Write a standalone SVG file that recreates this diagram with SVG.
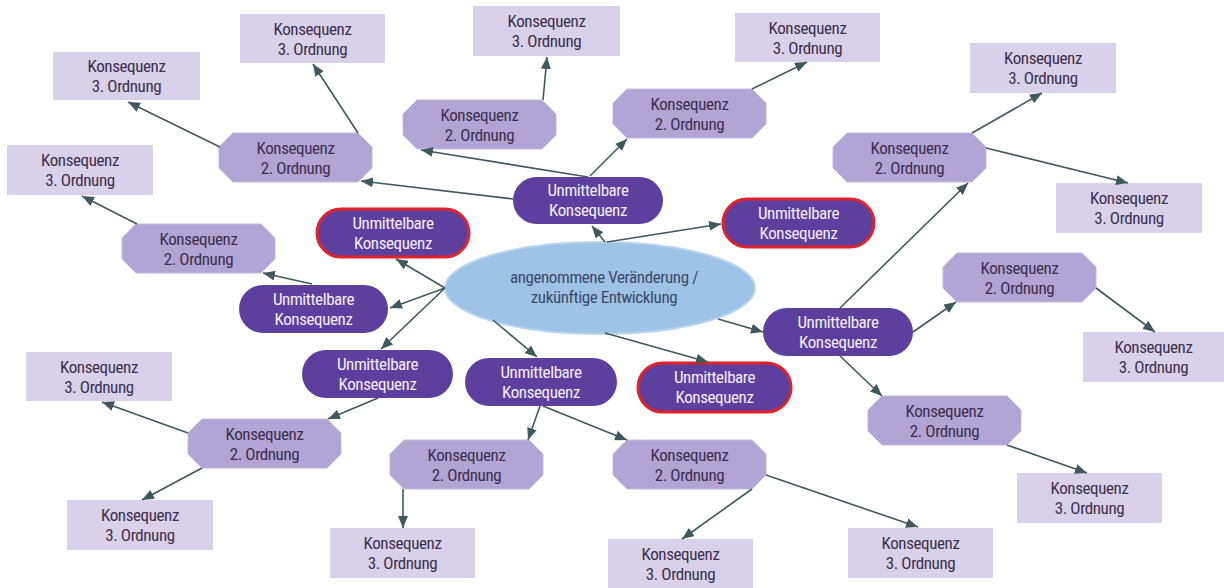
<svg xmlns="http://www.w3.org/2000/svg" width="1224" height="588" viewBox="0 0 1224 588">
<defs>
<marker id="arr" markerUnits="userSpaceOnUse" markerWidth="13" markerHeight="10" refX="12" refY="5" orient="auto">
<path d="M0,0 L12,5 L0,10 Z" fill="#3e5a60"/>
</marker>
<style>
text{font-family:"Liberation Sans Narrow","Roboto Condensed","DejaVu Sans Condensed","Liberation Sans",sans-serif;font-stretch:condensed;font-size:17px;letter-spacing:-0.4px;text-anchor:middle}
.l3 rect{fill:#d9d1ea}
.l3 text,.l2 text{fill:#3c2f4d}
.l2 polygon{fill:#b2a4d5;stroke:#c4b9e0;stroke-width:1}
.l1 rect{fill:#5d3f9e}
.l1 text{fill:#f3eefa}
.red rect{stroke:#e0232a;stroke-width:3}
.c line{stroke:#3e5a60;stroke-width:1.6;marker-end:url(#arr)}
</style>
</defs>
<rect width="1224" height="588" fill="#ffffff"/>

<g id="center">
<ellipse cx="600" cy="288" rx="155" ry="46" fill="#9dc3e6" stroke="#b8d5f0" stroke-width="2"/>
<text x="604" y="283" fill="#3b4a6b">angenommene Veränderung /<tspan x="604" y="303">zukünftige Entwicklung</tspan></text>
</g>

<g id="n3A" class="l3"><rect x="240" y="14" width="145" height="49"/><text x="312.5" y="34.5">Konsequenz<tspan x="312.5" y="54.5">3. Ordnung</tspan></text></g>
<g id="n3B" class="l3"><rect x="53" y="52" width="147" height="48"/><text x="126.5" y="72">Konsequenz<tspan x="126.5" y="92">3. Ordnung</tspan></text></g>
<g id="n3C" class="l3"><rect x="7" y="145" width="146" height="50"/><text x="80" y="166">Konsequenz<tspan x="80" y="186">3. Ordnung</tspan></text></g>
<g id="n3D" class="l3"><rect x="473" y="6" width="147" height="50"/><text x="546.5" y="27">Konsequenz<tspan x="546.5" y="47">3. Ordnung</tspan></text></g>
<g id="n3E" class="l3"><rect x="735" y="13" width="145" height="49"/><text x="807.5" y="33.5">Konsequenz<tspan x="807.5" y="53.5">3. Ordnung</tspan></text></g>
<g id="n3F" class="l3"><rect x="970" y="43" width="146" height="50"/><text x="1043" y="64">Konsequenz<tspan x="1043" y="84">3. Ordnung</tspan></text></g>
<g id="n3G" class="l3"><rect x="1056" y="183" width="146" height="50"/><text x="1129" y="204">Konsequenz<tspan x="1129" y="224">3. Ordnung</tspan></text></g>
<g id="n3H" class="l3"><rect x="1083" y="332" width="141" height="50"/><text x="1153.5" y="353">Konsequenz<tspan x="1153.5" y="373">3. Ordnung</tspan></text></g>
<g id="n3I" class="l3"><rect x="1017" y="473" width="145" height="50"/><text x="1089.5" y="494">Konsequenz<tspan x="1089.5" y="514">3. Ordnung</tspan></text></g>
<g id="n3J" class="l3"><rect x="848" y="528" width="145" height="50"/><text x="920.5" y="549">Konsequenz<tspan x="920.5" y="569">3. Ordnung</tspan></text></g>
<g id="n3K" class="l3"><rect x="608" y="539" width="145" height="49"/><text x="680.5" y="559.5">Konsequenz<tspan x="680.5" y="579.5">3. Ordnung</tspan></text></g>
<g id="n3L" class="l3"><rect x="330" y="528" width="145" height="50"/><text x="402.5" y="549">Konsequenz<tspan x="402.5" y="569">3. Ordnung</tspan></text></g>
<g id="n3M" class="l3"><rect x="67" y="500" width="146" height="50"/><text x="140" y="521">Konsequenz<tspan x="140" y="541">3. Ordnung</tspan></text></g>
<g id="n3N" class="l3"><rect x="26" y="352" width="146" height="49"/><text x="99" y="372.5">Konsequenz<tspan x="99" y="392.5">3. Ordnung</tspan></text></g>

<g id="n2a" class="l2"><polygon points="233,133 358,133 372,147 372,168 358,182 233,182 219,168 219,147"/><text x="295.5" y="153.5">Konsequenz<tspan x="295.5" y="173.5">2. Ordnung</tspan></text></g>
<g id="n2b" class="l2"><polygon points="136,224 261,224 275,238 275,259 261,273 136,273 122,259 122,238"/><text x="198.5" y="244.5">Konsequenz<tspan x="198.5" y="264.5">2. Ordnung</tspan></text></g>
<g id="n2c" class="l2"><polygon points="417,100 542,100 556,114 556,135 542,149 417,149 403,135 403,114"/><text x="479.5" y="120.5">Konsequenz<tspan x="479.5" y="140.5">2. Ordnung</tspan></text></g>
<g id="n2d" class="l2"><polygon points="627,89 752,89 766,103 766,124 752,138 627,138 613,124 613,103"/><text x="689.5" y="109.5">Konsequenz<tspan x="689.5" y="129.5">2. Ordnung</tspan></text></g>
<g id="n2e" class="l2"><polygon points="847,133 972,133 986,147 986,168 972,182 847,182 833,168 833,147"/><text x="909.5" y="153.5">Konsequenz<tspan x="909.5" y="173.5">2. Ordnung</tspan></text></g>
<g id="n2f" class="l2"><polygon points="957,253 1082,253 1096,267 1096,288 1082,302 957,302 943,288 943,267"/><text x="1019.5" y="273.5">Konsequenz<tspan x="1019.5" y="293.5">2. Ordnung</tspan></text></g>
<g id="n2g" class="l2"><polygon points="882,396 1007,396 1021,410 1021,431 1007,445 882,445 868,431 868,410"/><text x="944.5" y="416.5">Konsequenz<tspan x="944.5" y="436.5">2. Ordnung</tspan></text></g>
<g id="n2h" class="l2"><polygon points="627,440 752,440 766,454 766,475 752,489 627,489 613,475 613,454"/><text x="689.5" y="460.5">Konsequenz<tspan x="689.5" y="480.5">2. Ordnung</tspan></text></g>
<g id="n2i" class="l2"><polygon points="404,440 529,440 543,454 543,475 529,489 404,489 390,475 390,454"/><text x="466.5" y="460.5">Konsequenz<tspan x="466.5" y="480.5">2. Ordnung</tspan></text></g>
<g id="n2j" class="l2"><polygon points="202,419 327,419 341,433 341,454 327,468 202,468 188,454 188,433"/><text x="264.5" y="439.5">Konsequenz<tspan x="264.5" y="459.5">2. Ordnung</tspan></text></g>

<g id="p1" class="l1"><rect x="513" y="177" width="150" height="47" rx="23.5"/><text x="588" y="196">Unmittelbare<tspan x="588" y="216">Konsequenz</tspan></text></g>
<g id="p2" class="l1 red"><rect x="723" y="199" width="151" height="48" rx="24"/><text x="798.5" y="218.5">Unmittelbare<tspan x="798.5" y="238.5">Konsequenz</tspan></text></g>
<g id="p3" class="l1 red"><rect x="317" y="209" width="152" height="48" rx="24"/><text x="393" y="228.5">Unmittelbare<tspan x="393" y="248.5">Konsequenz</tspan></text></g>
<g id="p4" class="l1"><rect x="239" y="285" width="149" height="48" rx="24"/><text x="313.5" y="304.5">Unmittelbare<tspan x="313.5" y="324.5">Konsequenz</tspan></text></g>
<g id="p5" class="l1"><rect x="302" y="350" width="151" height="48" rx="24"/><text x="377.5" y="369.5">Unmittelbare<tspan x="377.5" y="389.5">Konsequenz</tspan></text></g>
<g id="p6" class="l1"><rect x="465" y="358" width="152" height="48" rx="24"/><text x="541" y="377.5">Unmittelbare<tspan x="541" y="397.5">Konsequenz</tspan></text></g>
<g id="p7" class="l1 red"><rect x="638" y="363" width="153" height="49" rx="24.5"/><text x="714.5" y="383">Unmittelbare<tspan x="714.5" y="403">Konsequenz</tspan></text></g>
<g id="p8" class="l1"><rect x="763" y="308" width="150" height="48" rx="24"/><text x="838" y="327.5">Unmittelbare<tspan x="838" y="347.5">Konsequenz</tspan></text></g>

<g id="connectors" class="c">
<line x1="605" y1="242" x2="592" y2="226"/>
<line x1="607" y1="242" x2="721" y2="224"/>
<line x1="445" y1="288" x2="396" y2="259"/>
<line x1="445" y1="288" x2="390" y2="308"/>
<line x1="445" y1="288" x2="381" y2="349"/>
<line x1="493" y1="320" x2="537" y2="357"/>
<line x1="605" y1="333" x2="708" y2="362"/>
<line x1="718" y1="319" x2="763" y2="332"/>
<line x1="513" y1="199" x2="361" y2="181"/>
<line x1="588" y1="177" x2="421" y2="150"/>
<line x1="590" y1="176" x2="627" y2="139"/>
<line x1="358" y1="133" x2="313" y2="64"/>
<line x1="220" y1="147" x2="128" y2="102"/>
<line x1="543" y1="100" x2="547" y2="57"/>
<line x1="752" y1="89" x2="807" y2="62"/>
<line x1="312" y1="284" x2="263" y2="273"/>
<line x1="137" y1="224" x2="82" y2="196"/>
<line x1="378" y1="398" x2="328" y2="419"/>
<line x1="188" y1="433" x2="102" y2="402"/>
<line x1="202" y1="468" x2="142" y2="500"/>
<line x1="540" y1="406" x2="528" y2="440"/>
<line x1="543" y1="406" x2="627" y2="440"/>
<line x1="403" y1="489" x2="403" y2="528"/>
<line x1="752" y1="489" x2="682" y2="539"/>
<line x1="766" y1="475" x2="918" y2="527"/>
<line x1="840" y1="308" x2="968" y2="183"/>
<line x1="972" y1="133" x2="1042" y2="93"/>
<line x1="986" y1="148" x2="1128" y2="183"/>
<line x1="913" y1="332" x2="956" y2="302"/>
<line x1="1096" y1="288" x2="1155" y2="332"/>
<line x1="840" y1="356" x2="882" y2="396"/>
<line x1="1007" y1="445" x2="1087" y2="473"/>
</g>
</svg>
